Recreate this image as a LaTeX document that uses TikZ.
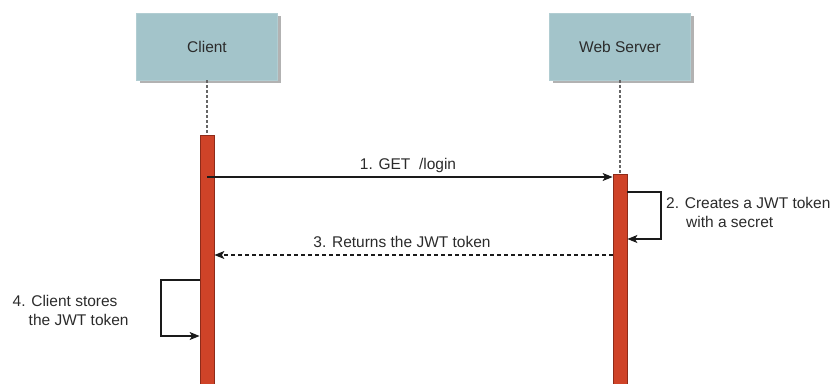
\documentclass[tikz,border=0pt]{standalone}
\usepackage{fontspec}
\setmainfont{Liberation Sans}
\usetikzlibrary{arrows.meta,shadows}
\definecolor{boxfill}{HTML}{A3C4CA}
\definecolor{barfill}{HTML}{CF4328}
\definecolor{barline}{HTML}{8E2B19}
\definecolor{txt}{HTML}{2B2B2B}
\definecolor{ln}{HTML}{1A1A1A}
\newcommand{\lblfont}{\fontsize{15.5}{19}\selectfont}
\begin{document}
\begin{tikzpicture}[x=1pt,y=-1pt,
  actor/.style={fill=boxfill, draw=boxfill!85!white, minimum width=141pt, minimum height=67pt,
    inner sep=0pt, text=txt, font=\lblfont,
    drop shadow={shadow xshift=3pt, shadow yshift=-3pt, fill=black!30, opacity=1}},
  actbar/.style={fill=barfill, draw=barline, line width=0.8pt, minimum width=14pt,
    minimum height=252pt, inner sep=0pt, anchor=north},
  lifeline/.style={draw=black!60, line width=1.2pt, dash pattern=on 3pt off 2pt},
  msg/.style={draw=ln, line width=1.1pt, -{Stealth[length=10pt,width=8pt,inset=2.5pt]}},
  retmsg/.style={msg, dash pattern=on 4pt off 3pt},
  lbl/.style={text=txt, font=\lblfont, inner sep=0pt}
]
\useasboundingbox (0,0) rectangle (835,383);

\node[actor] (client) at (207,46.5) {Client};
\node[actor] (server) at (620,46.5) {Web Server};

\node[actbar] (cbar) at (207,135) {};
\node[actbar] (sbar) at (620,174) {};

\draw[lifeline] (client.south) -- (cbar.north);
\draw[lifeline] (server.south) -- (sbar.north);

% 1. GET /login
\draw[msg] (cbar.center |- 0,177) -- (sbar.west |- 0,177);
\node[lbl] (l1) at (408,165) {1. GET\ \ /login};

% 2. self loop on server
\coordinate (s2a) at (661,192);
\coordinate (s2b) at (661,239);
\draw[msg] (sbar.east |- s2a) -- (s2a) -- (s2b) -- (sbar.east |- s2b);
\node[lbl, align=left, anchor=west] (l2) at (666,212.5) {2. Creates a JWT token\\\hspace*{20pt}with a secret};

% 3. Returns the JWT token
\draw[retmsg] (sbar.west |- 0,255) -- (cbar.east |- 0,255);
\node[lbl] (l3) at (402,242) {3. Returns the JWT token};

% 4. self loop on client
\coordinate (c4a) at (161,280);
\coordinate (c4b) at (161,336);
\draw[msg] (cbar.west |- c4a) -- (c4a) -- (c4b) -- (cbar.west |- c4b);
\node[lbl, align=left, anchor=west] (l4) at (12.5,310) {4. Client stores\\\hspace*{16pt}the JWT token};
\end{tikzpicture}
\end{document}
